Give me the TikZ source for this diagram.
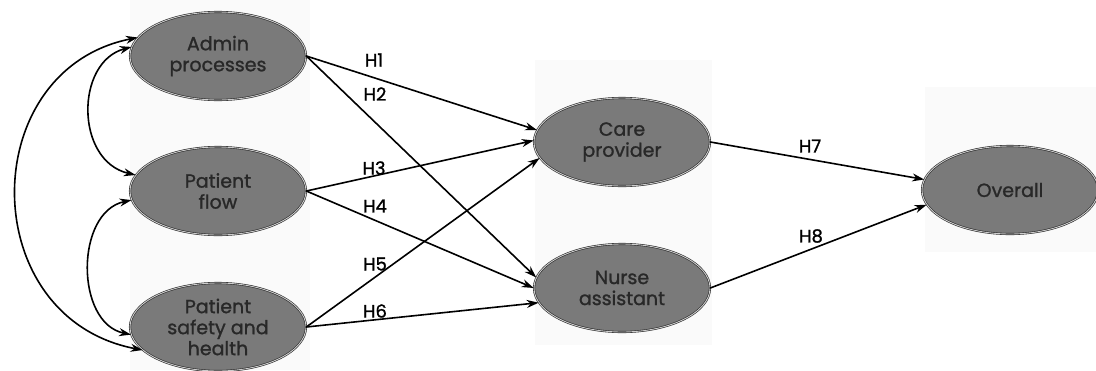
\documentclass[tikz,border=0pt]{standalone}
\usepackage{fontspec}
\setmainfont{Poppins}[AutoFakeBold=1.2]
\usetikzlibrary{shapes.geometric,arrows.meta}

\definecolor{ovalgray}{RGB}{122,122,122}
\definecolor{ovaltext}{RGB}{40,40,40}
\definecolor{ringgray}{RGB}{205,205,205}
\definecolor{panelgray}{RGB}{250,250,250}

\begin{document}
\begin{tikzpicture}[x=1pt, y=-1pt, >={Stealth[length=12pt,width=8pt]}, line cap=round,
    construct/.style={ellipse, fill=ovalgray, draw=ovaltext,
                      double=ringgray, double distance=0.9pt, line width=0.6pt,
                      minimum width=176pt, minimum height=88pt, inner sep=0pt,
                      align=center, text=ovaltext,
                      font=\fontsize{19}{21}\selectfont\bfseries},
    hyp/.style={->, line width=1.6pt},
    cov/.style={<->, line width=1.6pt},
    hlabel/.style={font=\fontsize{18}{20}\selectfont\bfseries}
    ]
\useasboundingbox (0,0) rectangle (1096,370);

% faint panels behind the columns
\fill [panelgray] (130,0) rectangle (310,370);
\fill [panelgray] (535,60) rectangle (712,345);
\fill [panelgray] (925,87) rectangle (1096,252);

% constructs
\node [construct] (admin)  at (218,56)  {Admin\\processes};
\node [construct] (flow)   at (218,191) {Patient\\flow};
\node [construct] (safety) at (218,327) {Patient\\safety and\\health};
\node [construct] (care)   at (622,142) {Care\\provider};
\node [construct] (nurse)  at (622,288) {Nurse\\assistant};
\node [construct] (overall) at (1010,190) {Overall};

% correlations on the left
\draw [cov] (admin.167) .. controls (-25,70) and (-25,318) .. (safety.197);
\draw [cov] (admin.174) .. controls (75,62) and (75,161) .. (flow.169);
\draw [cov] (flow.186) .. controls (75,212) and (75,323) .. (safety.185);

% hypotheses
\draw [hyp] (admin.east)  -- (care.172);
\draw [hyp] (admin.east)  -- (nurse.173);
\draw [hyp] (flow.east)   -- (care.179);
\draw [hyp] (flow.east)   -- (nurse.180);
\draw [hyp] (safety.east) -- (care.191);
\draw [hyp] (safety.east) -- (nurse.190);
\draw [hyp] (care.east)   -- (overall.173);
\draw [hyp] (nurse.east)  -- (overall.190);

% labels
\node [hlabel] (h1) at (374,60)  {H1};
\node [hlabel] (h2) at (375,94)  {H2};
\node [hlabel] (h3) at (374,168) {H3};
\node [hlabel] (h4) at (375,206) {H4};
\node [hlabel] (h5) at (375,264) {H5};
\node [hlabel] (h6) at (375,311) {H6};
\node [hlabel] (h7) at (810,146) {H7};
\node [hlabel] (h8) at (811,236) {H8};
\end{tikzpicture}
\end{document}
